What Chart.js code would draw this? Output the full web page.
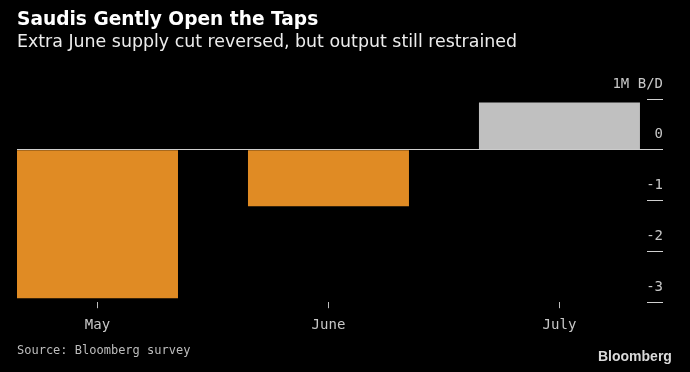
<!DOCTYPE html>
<html><head><meta charset="utf-8">
<script src="https://cdn.jsdelivr.net/npm/chart.js@4"></script>
<style>
html,body{margin:0;padding:0;background:#000;}
#wrap{position:relative;width:690px;height:372px;background:#000;overflow:hidden;}
#c{position:absolute;left:0;top:0;}
.t{position:absolute;white-space:nowrap;}
#title{left:17px;top:8px;font:bold 18.6px "DejaVu Sans";color:#fff;line-height:22px;}
#sub{left:17px;top:31px;font:17.4px "DejaVu Sans";color:#ececec;line-height:20px;}
#src{left:17px;top:343px;font:12px "DejaVu Sans Mono";color:#bdbdbd;line-height:15px;}
#logo{left:598px;top:348px;font:bold 14px "Liberation Sans";color:#d9d9d9;line-height:17px;}
</style></head><body>
<div id="wrap">
<canvas id="c" width="690" height="372"></canvas>
<div class="t" id="title">Saudis Gently Open the Taps</div>
<div class="t" id="sub">Extra June supply cut reversed, but output still restrained</div>
<div class="t" id="src">Source: Bloomberg survey</div>
<div class="t" id="logo">Bloomberg</div>
</div>
<script>
const categories = ['May', 'June', 'July'];
const values = [-2.92, -1.11, 0.93];
const yTickValues = [-3, -2, -1, 0, 1];
const yTickLabels = ['-3', '-2', '-1', '0', '1M B/D'];
const barColors = ['#E08B24', '#E08B24', '#C0C0C0'];

const axisFont = {family: 'DejaVu Sans Mono', size: 14};

new Chart(document.getElementById('c'), {
  type: 'bar',
  data: {
    datasets: [{
      data: categories.map((c, i) => ({x: i, y: values[i]})),
      backgroundColor: barColors,
      borderWidth: 0,
      barPercentage: 0.697,
      categoryPercentage: 1
    }]
  },
  options: {
    responsive: false,
    animation: false,
    layout: {padding: {left: 17, right: -5, top: 99, bottom: 29}},
    plugins: {legend: {display: false}, tooltip: {enabled: false}},
    scales: {
      x: {
        type: 'linear', offset: false, min: -0.3485, max: 2.379,
        afterBuildTicks: s => { s.ticks = categories.map((c, i) => ({value: i})); },
        ticks: {callback: v => categories[v], color: '#c8c8c8', font: axisFont, padding: 9, maxRotation: 0, autoSkip: false},
        grid: {offset: false, drawOnChartArea: false, tickLength: 6, tickColor: '#bdbdbd'},
        border: {display: false}
      },
      y: {
        position: 'right', min: -3, max: 1,
        afterBuildTicks: s => { s.ticks = yTickValues.map(v => ({value: v})); },
        ticks: {callback: v => yTickLabels[yTickValues.indexOf(v)], color: '#c8c8c8', font: axisFont,
                mirror: true, padding: 16, labelOffset: -15, autoSkip: false},
        grid: {color: ctx => (ctx.tick && ctx.tick.value === 0) ? '#d0d0d0' : 'rgba(0,0,0,0)',
               tickColor: '#d0d0d0', tickLength: 16},
        border: {display: false}
      }
    }
  }
});
</script>
</body></html>
